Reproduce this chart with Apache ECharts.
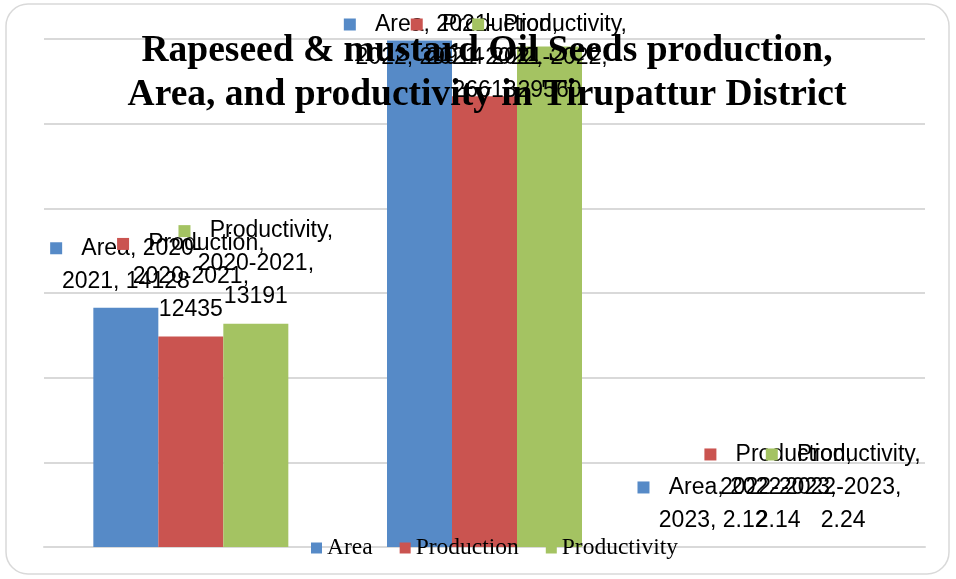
<!DOCTYPE html>
<html>
<head>
<meta charset="utf-8">
<script src="https://cdn.jsdelivr.net/npm/echarts@6/dist/echarts.min.js"></script>
<style>
html,body{margin:0;padding:0;background:#fff;}
#chart{width:956px;height:579px;}
</style>
</head>
<body>
<div id="chart"></div>
<script>
const categories = ['2020-2021', '2021-2022', '2022-2023'];
const seriesNames = ['Area', 'Production', 'Productivity'];
const areaValues = [14128, 29914, 2.12];
const productionValues = [12435, 26613, 2.14];
const productivityValues = [13191, 29560, 2.24];
const yTicks = [0, 5000, 10000, 15000, 20000, 25000, 30000];

const colors = ['#568ac7', '#ca5450', '#a4c362'];
const labelFont = 'Liberation Sans';

function makeFormatter(name) {
  return function (p) {
    const cat = p.name;
    const parts = cat.split('-');
    if (name === 'Area') {
      return '{sq|}{t|   Area, ' + parts[0] + '-}\n{t|' + parts[1] + ', ' + p.value + '}';
    }
    return '{sq|}{t|   ' + name + ',}\n{t|' + cat + ',}\n{t|' + p.value + '}';
  };
}

const valueArrays = [areaValues, productionValues, productivityValues];

const series = seriesNames.map(function (name, i) {
  return {
    name: name,
    type: 'bar',
    data: valueArrays[i],
    barGap: '0%',
    barCategoryGap: '33.6%',
    itemStyle: { color: colors[i] },
    label: {
      show: true,
      position: 'top',
      distance: 10,
      formatter: makeFormatter(name),
      color: '#000',
      lineHeight: 33,
      rich: {
        sq: { width: 12, height: 12, backgroundColor: colors[i], lineHeight: 33 },
        t: { fontSize: 23, fontFamily: labelFont, color: '#000', lineHeight: 33 }
      }
    },
    labelLayout: function (params) {
      if (params.labelRect.y < 8) {
        return { dy: 8 - params.labelRect.y };
      }
      return {};
    }
  };
});

const chart = echarts.init(document.getElementById('chart'), null, { renderer: 'canvas' });
chart.setOption({
  backgroundColor: '#fff',
  animation: false,
  graphic: [{
    type: 'rect',
    z: -10,
    shape: { x: 6, y: 4, width: 943, height: 570, r: 22 },
    style: { fill: 'none', stroke: '#d9d9d9', lineWidth: 1.5 }
  }],
  title: {
    text: 'Rapeseed & mustard Oil Seeds production,\nArea, and productivity in Tirupattur District',
    left: 482,
    textAlign: 'center',
    top: 24,
    textStyle: {
      fontFamily: 'Liberation Serif',
      fontWeight: 'bold',
      fontSize: 37.5,
      lineHeight: 44,
      color: '#000'
    }
  },
  legend: {
    data: seriesNames,
    left: 306,
    top: 531,
    icon: 'rect',
    itemWidth: 11,
    itemHeight: 11,
    itemGap: 27,
    textStyle: { fontFamily: 'Liberation Serif', fontSize: 23.5, color: '#000' }
  },
  grid: { left: 44, right: 31, top: 39, bottom: 32 },
  xAxis: {
    type: 'category',
    data: categories,
    axisLine: { show: true, lineStyle: { color: '#d9d9d9', width: 2 } },
    axisTick: { show: false },
    axisLabel: { show: false }
  },
  yAxis: {
    type: 'value',
    min: yTicks[0],
    max: yTicks[yTicks.length - 1],
    interval: yTicks[1] - yTicks[0],
    axisLine: { show: false },
    axisTick: { show: false },
    axisLabel: { show: false },
    splitLine: { lineStyle: { color: '#d9d9d9', width: 2 } }
  },
  series: series
});
</script>
</body>
</html>
